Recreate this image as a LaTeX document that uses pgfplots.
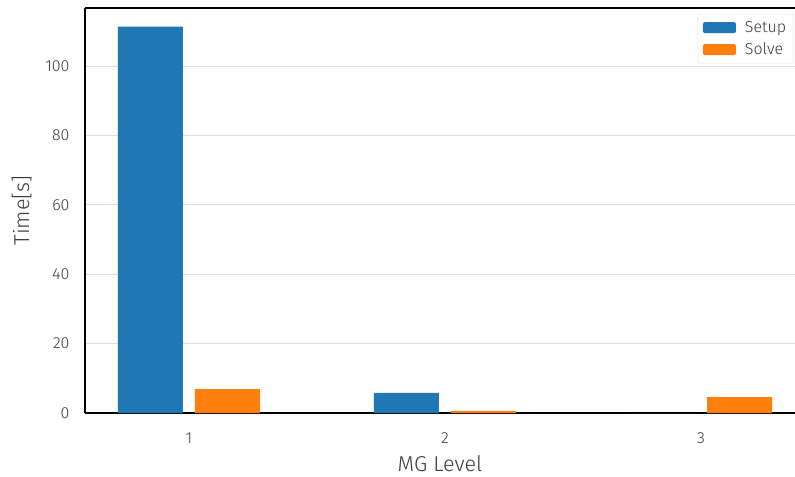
\documentclass[border=0pt]{standalone}
\usepackage{pgfplots}
\pgfplotsset{compat=1.18}
\usepackage{fontspec}
\setmainfont{Fira Sans}[UprightFont=* Light]
\definecolor{tabblue}{HTML}{1F77B4}
\definecolor{taborange}{HTML}{FF7F0E}
\definecolor{gridgray}{HTML}{DDDDDD}
\definecolor{ticktext}{HTML}{3A3A3A}
\begin{document}
\begin{tikzpicture}
\path[use as bounding box] (-85bp,-64bp) rectangle (710bp,413bp);
\begin{axis}[
  scale only axis,
  width=710bp, height=405bp,
  xmin=0.594, xmax=3.367,
  ymin=0, ymax=116.7,
  xtick={1,2,3},
  ytick={0,20,40,60,80,100},
  ymajorgrids,
  grid style={gridgray, line width=0.8bp},
  axis x line*=bottom,
  axis y line*=left,
  axis line style={black, line width=1.5bp, -},
  tick style={draw=none},
  ticklabel style={font=\fontsize{16bp}{18bp}\selectfont, text=ticktext},
  yticklabel style={xshift=-12bp},
  xticklabel style={yshift=-12bp},
  /pgf/number format/assume math mode=true,
  xlabel={MG Level}, ylabel={Time[s]},
  label style={font=\fontsize{21.5bp}{24bp}\selectfont, text=ticktext},
  xlabel style={yshift=-5bp},
  ylabel style={yshift=7bp},
  ybar, bar width=65bp,
  legend style={at={(0.863,0.985)}, anchor=north west, draw=gridgray, rounded corners=2bp,
    font=\fontsize{16bp}{18bp}\selectfont, text=ticktext, row sep=5bp, inner sep=5bp},
  legend image code/.code={\fill[#1] (0bp,-5.5bp) rectangle (33bp,5.5bp); \path (40bp,0bp);},
  legend cell align=left,
]
\addplot[fill=tabblue, draw=none, bar shift=-38.5bp] coordinates {(1,111.3) (2,5.8) (3,0)};
\addplot[fill=taborange, draw=none, bar shift=38.5bp] coordinates {(1,6.9) (2,0.6) (3,4.6)};
\legend{Setup, Solve}
\draw[black, line width=1.5bp] (rel axis cs:0,1) -- (rel axis cs:1,1);
\end{axis}
\end{tikzpicture}
\end{document}
